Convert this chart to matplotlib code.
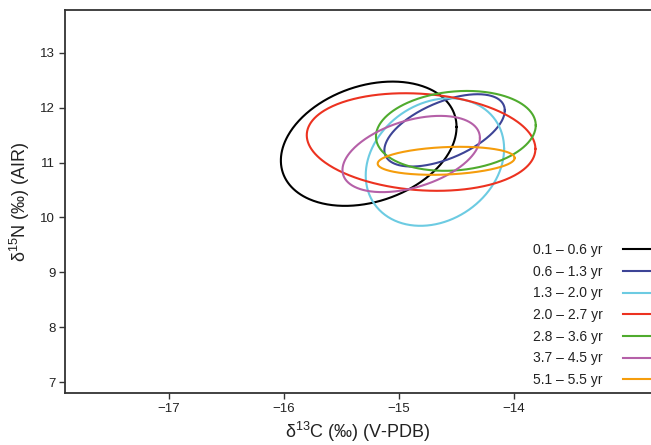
import numpy as np
import matplotlib
matplotlib.use("Agg")
import matplotlib.pyplot as plt

plt.rcParams["font.family"] = ["Liberation Sans", "DejaVu Sans"]
plt.rcParams["mathtext.fontset"] = "custom"
plt.rcParams["mathtext.rm"] = "Liberation Sans"
plt.rcParams["mathtext.it"] = "Liberation Sans:italic"

# standard ellipse parameters per age class
labels = [
    "0.1 \u2013 0.6 yr",
    "0.6 \u2013 1.3 yr",
    "1.3 \u2013 2.0 yr",
    "2.0 \u2013 2.7 yr",
    "2.8 \u2013 3.6 yr",
    "3.7 \u2013 4.5 yr",
    "5.1 \u2013 5.5 yr",
]
mean_c = [-15.262, -14.603, -14.687, -14.807, -14.505, -14.893, -14.589]
mean_n = [11.342, 11.585, 11.009, 11.373, 11.576, 11.155, 11.031]
half_c = [0.763, 0.523, 0.601, 0.993, 0.694, 0.597, 0.595]
half_n = [1.131, 0.658, 1.161, 0.888, 0.727, 0.694, 0.255]
corr = [0.27, 0.55, 0.21, -0.14, 0.14, 0.42, 0.20]
colors = ["#000000", "#3d4496", "#6ccbe2", "#ec3220", "#4fab2e", "#b560a8", "#f59d0c"]

x_ticks = [-17, -16, -15, -14]
y_ticks = [7, 8, 9, 10, 11, 12, 13]

fig = plt.figure(figsize=(6.51, 4.45), dpi=100)
ax = fig.add_axes([65 / 651, 52 / 445, 1 - 65 / 651, 383 / 445])

t = np.linspace(0, 2 * np.pi, 400)
for cx, cy, rx, ry, r, col, lab in zip(mean_c, mean_n, half_c, half_n, corr, colors, labels):
    xs = cx + rx * np.cos(t)
    ys = cy + ry * (r * np.cos(t) + np.sqrt(1 - r ** 2) * np.sin(t))
    ax.plot(xs, ys, color=col, lw=1.5, label=lab)

ax.set_xlim(-17.9, -12.81)
ax.set_ylim(6.805, 13.776)
ax.set_xticks(x_ticks)
ax.set_xticklabels([f"\u2212{abs(v)}" for v in x_ticks])
ax.set_yticks(y_ticks)
ax.tick_params(direction="out", length=4, width=1, color="#333333",
               labelsize=9.5, labelcolor="#222222", pad=3)
ax.spines["right"].set_visible(False)
for s in ["left", "bottom", "top"]:
    ax.spines[s].set_linewidth(1.3)
    ax.spines[s].set_color("#333333")

ax.set_xlabel("\u03b4$^{13}$C (\u2030) (V-PDB)", fontsize=13, color="#222222", labelpad=4)
ax.set_ylabel("\u03b4$^{15}$N (\u2030) (AIR)", fontsize=13, color="#222222", labelpad=6)

leg = ax.legend(loc="lower right", bbox_to_anchor=(650 / 651, 58 / 445),
                bbox_transform=fig.transFigure, frameon=False, markerfirst=False,
                fontsize=10, handlelength=1.95, handletextpad=1.45,
                labelspacing=0.55, borderpad=0, borderaxespad=0)
for txt in leg.get_texts():
    txt.set_color("#222222")

fig.savefig("out.png", dpi=100)
